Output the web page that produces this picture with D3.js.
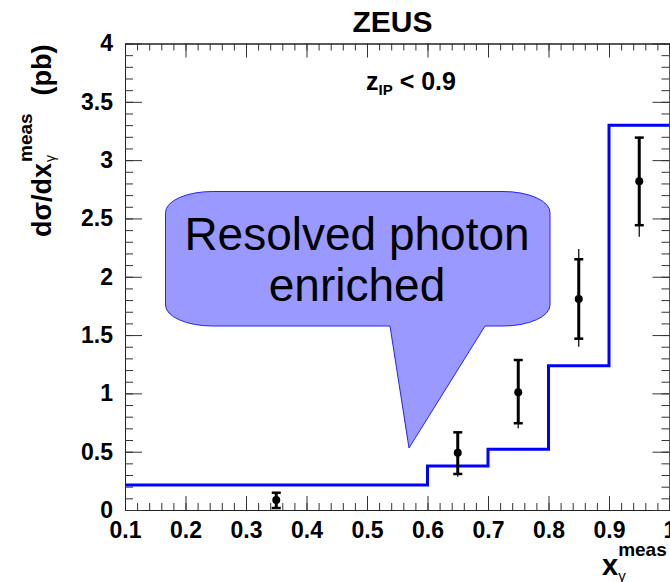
<!DOCTYPE html>
<html>
<head>
<meta charset="utf-8">
<script src="https://cdn.jsdelivr.net/npm/d3@7"></script>
<style>
  body { margin: 0; background: #fff; }
  svg { display: block; }
  text { font-family: "Liberation Sans", Arial, Helvetica, sans-serif; }
</style>
</head>
<body>
<svg id="chart"></svg>
<script>
// histogram (MC prediction), bin edges and contents
var binEdges = [0.1, 0.6, 0.7, 0.8, 0.9, 1.0];
var mcValues = [0.214, 0.377, 0.52, 1.237, 3.30];

// data points with stat (capped) and total (thin) errors
var xPoints = [0.35, 0.65, 0.75, 0.85, 0.95];
var yPoints = [0.086, 0.491, 1.009, 1.81, 2.819];
var statHi  = [0.148, 0.666, 1.286, 2.15, 3.193];
var statLo  = [0.017, 0.309, 0.744, 1.469, 2.442];
var totHi   = [0.152, 0.676, 1.295, 2.238, 3.20];
var totLo   = [0.01, 0.286, 0.70, 1.40, 2.344];

var xTickVals = [0.1, 0.2, 0.3, 0.4, 0.5, 0.6, 0.7, 0.8, 0.9, 1.0];
var xTickLabels = ["0.1", "0.2", "0.3", "0.4", "0.5", "0.6", "0.7", "0.8", "0.9", "1"];
var yTickVals = [0, 0.5, 1, 1.5, 2, 2.5, 3, 3.5, 4];
var yTickLabels = ["0", "0.5", "1", "1.5", "2", "2.5", "3", "3.5", "4"];

var W = 670, H = 582;
var pL = 125, pR = 669.5, pT = 43.5, pB = 510;

var svg = d3.select("#chart").attr("width", W).attr("height", H);

var x = d3.scaleLinear().domain([0.1, 1.0]).range([pL, pR]);
var y = d3.scaleLinear().domain([0, 4]).range([pB, pT]);

var xMinor = d3.range(0.1, 1.0001, 0.02).map(function(d) { return +d.toFixed(2); });
var yMinor = d3.range(0, 4.0001, 0.1).map(function(d) { return +d.toFixed(1); });

function styleAxis(g) {
    g.selectAll("path.domain").attr("stroke", "#222").attr("stroke-width", 1);
    g.selectAll(".tick line").attr("stroke", "#333").attr("stroke-width", 1);
}

// bottom axis, labels
var gx = svg.append("g").attr("transform", "translate(0," + pB + ")")
    .call(d3.axisBottom(x).tickValues(xTickVals).tickSizeInner(-14).tickSizeOuter(0).tickPadding(12)
        .tickFormat(function(d, i) { return xTickLabels[i]; }));
gx.call(styleAxis);
gx.selectAll(".tick text").attr("font-size", 23).attr("font-weight", "bold").attr("fill", "#000")
    .attr("font-family", "Liberation Sans, Arial, sans-serif");
svg.append("g").attr("transform", "translate(0," + pB + ")")
    .call(d3.axisBottom(x).tickValues(xMinor).tickSizeInner(-7).tickSizeOuter(0).tickFormat(""))
    .call(styleAxis);

// top axis
svg.append("g").attr("transform", "translate(0," + pT + ")")
    .call(d3.axisTop(x).tickValues(xTickVals).tickSizeInner(-14).tickSizeOuter(0).tickFormat(""))
    .call(styleAxis);
svg.append("g").attr("transform", "translate(0," + pT + ")")
    .call(d3.axisTop(x).tickValues(xMinor).tickSizeInner(-7).tickSizeOuter(0).tickFormat(""))
    .call(styleAxis);

// left axis
var gy = svg.append("g").attr("transform", "translate(" + pL + ",0)")
    .call(d3.axisLeft(y).tickValues(yTickVals).tickSizeInner(-17).tickSizeOuter(0).tickPadding(12)
        .tickFormat(function(d, i) { return yTickLabels[i]; }));
gy.call(styleAxis);
gy.selectAll(".tick text").attr("font-size", 23).attr("font-weight", "bold").attr("fill", "#000")
    .attr("font-family", "Liberation Sans, Arial, sans-serif");
svg.append("g").attr("transform", "translate(" + pL + ",0)")
    .call(d3.axisLeft(y).tickValues(yMinor).tickSizeInner(-8).tickSizeOuter(0).tickFormat(""))
    .call(styleAxis);

// right axis
svg.append("g").attr("transform", "translate(" + pR + ",0)")
    .call(d3.axisRight(y).tickValues(yTickVals).tickSizeInner(-17).tickSizeOuter(0).tickFormat(""))
    .call(styleAxis);
svg.append("g").attr("transform", "translate(" + pR + ",0)")
    .call(d3.axisRight(y).tickValues(yMinor).tickSizeInner(-8).tickSizeOuter(0).tickFormat(""))
    .call(styleAxis);

// MC histogram
var stepPts = binEdges.map(function(e, i) {
    return [e, i < mcValues.length ? mcValues[i] : mcValues[mcValues.length - 1]];
});
svg.append("path")
    .datum(stepPts)
    .attr("d", d3.line().x(function(d) { return x(d[0]); }).y(function(d) { return y(d[1]); })
        .curve(d3.curveStepAfter))
    .attr("fill", "none").attr("stroke", "#0000ff").attr("stroke-width", 3);

// data points
var pts = xPoints.map(function(d, i) {
    return { x: d, y: yPoints[i], sh: statHi[i], sl: statLo[i], th: totHi[i], tl: totLo[i] };
});
var gp = svg.append("g");
gp.selectAll("line.tot").data(pts).enter().append("line")
    .attr("x1", function(d) { return x(d.x); }).attr("x2", function(d) { return x(d.x); })
    .attr("y1", function(d) { return y(d.th); }).attr("y2", function(d) { return y(d.tl); })
    .attr("stroke", "#111").attr("stroke-width", 1.3);
gp.selectAll("line.stat").data(pts).enter().append("line")
    .attr("x1", function(d) { return x(d.x); }).attr("x2", function(d) { return x(d.x); })
    .attr("y1", function(d) { return y(d.sh); }).attr("y2", function(d) { return y(d.sl); })
    .attr("stroke", "#000").attr("stroke-width", 3);
["sh", "sl"].forEach(function(k) {
    gp.selectAll("line.cap" + k).data(pts).enter().append("line")
        .attr("x1", function(d) { return x(d.x) - 4.5; }).attr("x2", function(d) { return x(d.x) + 4.5; })
        .attr("y1", function(d) { return y(d[k]); }).attr("y2", function(d) { return y(d[k]); })
        .attr("stroke", "#000").attr("stroke-width", 2.5);
});
gp.selectAll("circle").data(pts).enter().append("circle")
    .attr("cx", function(d) { return x(d.x); }).attr("cy", function(d) { return y(d.y); })
    .attr("r", 4).attr("fill", "#000");

// title and cut label
svg.append("text").attr("x", 392.5).attr("y", 32).attr("text-anchor", "middle")
    .attr("font-size", 30).attr("font-weight", "bold").text("ZEUS");

var cut = svg.append("text").attr("x", 366).attr("y", 90).attr("font-size", 25).attr("font-weight", "bold");
cut.append("tspan").text("z");
cut.append("tspan").attr("font-size", 15).attr("dy", 5).text("IP");
cut.append("tspan").attr("dy", -5).text(" < 0.9");

// y axis title
var yt = svg.append("g").attr("transform", "translate(51,0) rotate(-90)");
var yStart = -237;
var t1 = yt.append("text").attr("x", yStart).attr("y", 0).attr("font-size", 27).attr("font-weight", "bold")
    .text("d\u03c3/dx");
var l1 = t1.node().getComputedTextLength();
var tSup = yt.append("text").attr("x", yStart + l1 + 1).attr("y", -19).attr("font-size", 19).attr("font-weight", "bold")
    .text("meas");
yt.append("text").attr("x", yStart + l1 + 1).attr("y", 4).attr("font-size", 14)
    .text("\u03b3");
var l2 = tSup.node().getComputedTextLength();
yt.append("text").attr("x", yStart + l1 + l2 + 19).attr("y", 0).attr("font-size", 27).attr("font-weight", "bold")
    .text("(pb)");

// x axis title
var xt = svg.append("text").attr("x", 602).attr("y", 575).attr("font-size", 29).attr("font-weight", "bold").text("x");
var lx = xt.node().getComputedTextLength();
svg.append("text").attr("x", 602 + lx).attr("y", 556).attr("font-size", 19).attr("font-weight", "bold").text("meas");
svg.append("text").attr("x", 602 + lx).attr("y", 581).attr("font-size", 15).text("\u03b3");

// callout annotation
var bL = 165.5, bR = 550, bT = 191.5, bB = 326, rx = 47, ry = 21;
var tailA = 390, tailB = 485, tipX = 409, tipY = 448;
var cPath = "M" + (bL + rx) + "," + bT +
    " L" + (bR - rx) + "," + bT +
    " A" + rx + "," + ry + " 0 0 1 " + bR + "," + (bT + ry) +
    " L" + bR + "," + (bB - ry) +
    " A" + rx + "," + ry + " 0 0 1 " + (bR - rx) + "," + bB +
    " L" + tailB + "," + bB +
    " L" + tipX + "," + tipY +
    " L" + tailA + "," + bB +
    " L" + (bL + rx) + "," + bB +
    " A" + rx + "," + ry + " 0 0 1 " + bL + "," + (bB - ry) +
    " L" + bL + "," + (bT + ry) +
    " A" + rx + "," + ry + " 0 0 1 " + (bL + rx) + "," + bT + " Z";
svg.append("path").attr("d", cPath).attr("fill", "#9999ff").attr("stroke", "#2222ff").attr("stroke-width", 1);

svg.append("text").attr("x", 357).attr("y", 250).attr("text-anchor", "middle").attr("font-size", 46)
    .attr("fill", "#000").text("Resolved photon");
svg.append("text").attr("x", 357).attr("y", 301).attr("text-anchor", "middle").attr("font-size", 46)
    .attr("fill", "#000").text("enriched");
</script>
</body>
</html>
